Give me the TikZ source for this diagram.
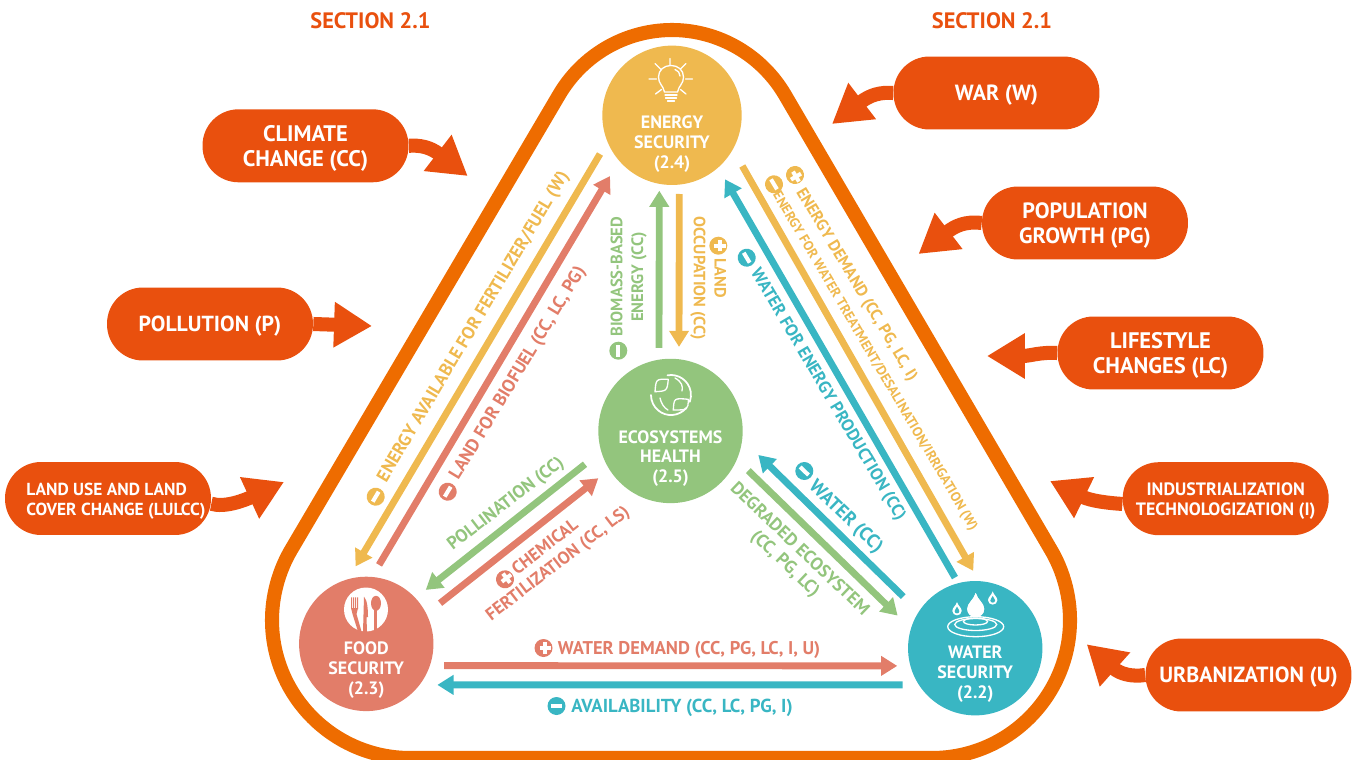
\documentclass[tikz,border=0pt]{standalone}
\usepackage{fontspec}
\setmainfont{PT Sans}
\usepackage{tikz}
\usetikzlibrary{arrows.meta}
\usetikzlibrary{positioning}
\definecolor{c_ring}{HTML}{EE6C00}
\definecolor{c_force}{HTML}{E9500E}
\definecolor{c_energy}{HTML}{EFB94F}
\definecolor{c_food}{HTML}{E27D69}
\definecolor{c_eco}{HTML}{93C57D}
\definecolor{c_water}{HTML}{39B6C3}
\newcommand{\plussign}{\rlap{\rule[-1.15pt]{6.6pt}{2.3pt}}\hspace{2.15pt}\rule[-3.3pt]{2.3pt}{6.6pt}\hspace{2.15pt}}
\newcommand{\minussign}{\rule[-1.15pt]{6.6pt}{2.3pt}}
\newcommand{\lowline}{\rule{0pt}{12.3pt}}
\newcommand{\lowsmall}{\rule{0pt}{10pt}}
\newcommand{\dropshape}{(0,-12) .. controls (-2,-5) and (-8.5,-2) .. (-8.5,4) .. controls (-8.5,9) and (-4.5,12) .. (0,12) .. controls (4.5,12) and (8.5,9) .. (8.5,4) .. controls (8.5,-2) and (2,-5) .. (0,-12)}
\tikzstyle{NEXUS_style}=[
	x=0.02cm,y=-0.02cm,on grid,
	pillar/.style={circle,draw=none,inner sep=0pt},
	pillar_text/.style={align=center,text=white,font=\bfseries\fontsize{10.2}{11.3}\selectfont},
	pressure/.style={rectangle,rounded corners=0.72cm,fill=c_force,minimum width=4.12cm,minimum height=1.46cm,inner sep=0pt,align=center,text=white,execute at begin node={\rule{0pt}{11.5pt}}},
	force_edge/.style={draw=c_force,line width=8pt,-{Triangle[length=21.6pt,width=24.5pt]}},
	link/.style={line width=3.9pt,-{Triangle[length=9.2pt,width=10.8pt]}},
	flow_text/.style={align=center,inner sep=0pt,font=\bfseries\fontsize{##1}{11.8}\selectfont},
	flow_line/.style={flow_text=##1,execute at begin node={\rule{0pt}{0.9em}}},
	badge/.style={circle,minimum size=0.36cm,inner sep=0pt,text=white,font=\fontsize{6}{6}\selectfont},
	icon_line/.style={draw=white,line width=0.75pt,line cap=round}
]

\begin{document}
\begin{tikzpicture}[NEXUS_style]
	\useasboundingbox (0,0) rectangle (1355,760);

	%ring
	\draw[draw=c_ring,line width=8pt] (559,95) .. controls (582.5,54.9) and (625.5,30) .. (672,30)
	.. controls (718.5,30) and (761.5,54.9) .. (785,95) -- (1051,550)
	.. controls (1063.3,570.9) and (1070,595.8) .. (1070,620)
	.. controls (1070,696.2) and (1008,758) .. (932,758) -- (410,758)
	.. controls (334,758) and (272,696.2) .. (272,620)
	.. controls (272,595.8) and (278.7,570.9) .. (291,550) -- cycle;

	%pillars
	\node[pillar,fill=c_energy,minimum size=2.788cm] (energy) at (672,115.3) {};
	\node[pillar,fill=c_eco,minimum size=2.888cm] (eco) [below left=6.314cm and 0.03cm of energy] {};
	\node[pillar,fill=c_food,minimum size=2.688cm] (food) [below left=4.26cm and 6.086cm of eco] {};
	\node[pillar,fill=c_water,minimum size=2.688cm] (water) [below right=4.346cm and 6.096cm of eco] {};

	\node[pillar_text] (energy_l) [below=0.574cm of energy] {ENERGY\\SECURITY\\(2.4)};
	\node[pillar_text] (eco_l) [below=0.55cm of eco] {ECOSYSTEMS\\HEALTH\\(2.5)};
	\node[pillar_text] (food_l) [below=0.53cm of food] {FOOD\\SECURITY\\(2.3)};
	\node[pillar_text] (water_l) [below=0.524cm of water] {WATER\\SECURITY\\(2.2)};

	%bulb
	\draw[icon_line] (664.5,92) .. controls (663,85) and (658.5,84) .. (658.5,77) .. controls (658.5,70) and (664,65.5) .. (671,65.5) .. controls (678,65.5) and (683.5,70) .. (683.5,77) .. controls (683.5,84) and (679,85) .. (677.5,92) -- cycle;
	\draw[icon_line] (675,69.5) .. controls (678,70.5) and (680,73) .. (680,76);
	\draw[icon_line] (665,95) -- (677,95) (665.5,98) -- (676.5,98) (667.5,101) -- (674.5,101);
	\draw[icon_line] (670,58.5) -- (670,65) (655,63.5) -- (661,69.5) (686,63.5) -- (680.5,69) (649,79) -- (656.5,79) (685.5,79) -- (692.5,79) (655.5,94) -- (661.5,89.5) (686,94) -- (680.5,89.5);

	%leaves
	\draw[icon_line,line width=1pt] (667.5,375.3) arc [start angle=-100,end angle=20,radius=20];
	\draw[icon_line,line width=1pt] (686.3,407.9) arc [start angle=40,end angle=180,radius=20];
	\draw[icon_line] (675,378) .. controls (682,382) and (683,386) .. (682,391);
	\draw[icon_line] (660,398) .. controls (661,403) and (664,408) .. (668,410);
	\draw[icon_line] (668.3,379.3) .. controls (656,379) .. (655,391.7) .. controls (667,391) .. (668.3,379.3);
	\draw[icon_line] (688.3,399.3) .. controls (674,398) .. (673.3,410) .. controls (688,410) .. (688.3,399.3);

	%cutlery
	\fill[white] (366,609.5) circle [radius=22];
	\fill[c_food] (351,597.3) rectangle (352,609) (353,597.3) rectangle (354,609) (355,597.3) rectangle (356,609) (357,597.3) rectangle (358,609);
	\fill[c_food] (351,608) -- (358,608) -- (356.5,614) -- (361.5,631.5) -- (358,631.5) -- (352.5,614) -- cycle;
	\fill[c_food] (364,596.7) .. controls (367.5,600) and (368,610) .. (368,617) -- (366.5,617) -- (367,632) -- (363,632) -- cycle;
	\fill[c_food] (376,603.3) ellipse [x radius=5,y radius=7.5];
	\fill[c_food] (374.3,608) rectangle (377.3,632);

	%drops
	\fill[white,shift={(975.7,605)}] \dropshape;
	\fill[white,shift={(957,608.7)},scale=0.55] \dropshape;
	\fill[c_water,shift={(957,610)},scale=0.28] \dropshape;
	\fill[white,shift={(992.7,598)},scale=0.55] \dropshape;
	\fill[c_water,shift={(992.7,599.3)},scale=0.28] \dropshape;
	\draw[icon_line] (975.7,626.7) ellipse [x radius=28,y radius=10];
	\draw[icon_line] (975.7,624.5) ellipse [x radius=21,y radius=6];
	\draw[icon_line] (975.5,621.5) ellipse [x radius=12,y radius=3.5];
	\fill[white,shift={(975.7,605)}] \dropshape;

	%links
	\path ([shift={(-72,38.7)}]energy.center) edge [link,c_energy] ([shift={(-10.7,-77.5)}]food.center)
	([shift={(7.3,78.7)}]energy.center) edge [link,c_energy] ([shift={(8.5,-84)}]eco.center)
	([shift={(70.3,50.7)}]energy.center) edge [link,c_energy] ([shift={(-2,-77.3)}]water.center);
	\path ([shift={(12.8,-79)}]food.center) edge [link,c_food] ([shift={(-62,60.7)}]energy.center)
	([shift={(73.8,-40.7)}]food.center) edge [link,c_food] ([shift={(-72.2,47.3)}]eco.center)
	([shift={(77.8,21.7)}]food.center) edge [link,c_food] ([shift={(-78,17.7)}]water.center);
	\path ([shift={(-11.5,-83)}]eco.center) edge [link,c_eco] ([shift={(-12.7,75.4)}]energy.center)
	([shift={(77.8,39.7)}]eco.center) edge [link,c_eco] ([shift={(-77.6,-32.6)}]water.center)
	([shift={(-85.5,33.3)}]eco.center) edge [link,c_eco] ([shift={(59.5,-54)}]food.center);
	\path ([shift={(-20.3,-70.6)}]water.center) edge [link,c_water] ([shift={(53,64)}]energy.center)
	([shift={(-72,-51.6)}]water.center) edge [link,c_water] ([shift={(87.8,24)}]eco.center)
	([shift={(-72.6,36.7)}]water.center) edge [link,c_water] ([shift={(71.1,41)}]food.center);

	%link labels
	\node[flow_line=10.2,text=c_energy,rotate=59.3] (l_fertilizer) at (472.5,326) {ENERGY AVAILABLE FOR FERTILIZER/FUEL (W)};
	\node[badge,fill=c_energy,rotate=59.3] (b_fertilizer) at (375.7,496.7) {\minussign};
	\node[flow_line=10.3,text=c_food,rotate=58.8] (l_biofuel) at (516.7,372.5) {LAND FOR BIOFUEL (CC, LC, PG)};
	\node[badge,fill=c_food,rotate=58.8] (b_biofuel) at (447.7,491.7) {\minussign};
	\node[flow_text=9.4,text=c_eco,rotate=90] (l_biomass) at (628.7,276.7) {BIOMASS-BASED\\ENERGY (CC)};
	\node[badge,fill=c_eco,rotate=90] (b_biomass) at (618.3,350.7) {\minussign};
	\node[flow_text=9.3,text=c_energy,rotate=-90] (l_land) at (708.3,278) {LAND\\OCCUPATION (CC)};
	\node[badge,fill=c_energy] (b_land) at (718.3,245.7) {\plussign};
	\node[flow_line=9.3,text=c_energy,rotate=-59] (l_demand) at (857.5,284) {ENERGY DEMAND (CC, PG, LC, I)};
	\node[badge,fill=c_energy,rotate=-59] (b_demand) at (795,175) {\plussign};
	\node[flow_line=7.8,text=c_energy,rotate=-59.5] (l_treatment) at (875.8,361) {ENERGY FOR WATER TREATMENT/DESALINATION/IRRIGATION (W)};
	\node[badge,fill=c_energy,rotate=-59] (b_treatment) at (774,184.3) {\minussign};
	\node[flow_line=9.8,text=c_water,rotate=-59.4] (l_production) at (829,394) {WATER FOR ENERGY PRODUCTION (CC)};
	\node[badge,fill=c_water,rotate=-59] (b_production) at (746.7,257.7) {\minussign};
	\node[flow_line=10.8,text=c_water,rotate=-44] (l_river) at (846.7,515.8) {WATER (CC)};
	\node[badge,fill=c_water,rotate=-44] (b_river) at (804.3,471) {\minussign};
	\node[flow_text=10.2,text=c_eco,rotate=-43.7] (l_degraded) at (792,557) {DEGRADED ECOSYSTEM\\(CC, PG, LC)};
	\node[flow_line=10.2,text=c_eco,rotate=37.6] (l_pollination) at (505,503) {POLLINATION (CC)};
	\node[flow_text=10,text=c_food,rotate=37.5] (l_chemical) at (552,556) {CHEMICAL\\FERTILIZATION (CC, LS)};
	\node[badge,fill=c_food,rotate=37.5] (b_chemical) at (505,579.3) {\plussign};
	\node[flow_line=10.5,text=c_food] (l_demand_w) at (689,648) {WATER DEMAND (CC, PG, LC, I, U)};
	\node[badge,fill=c_food] (b_demand_w) at (543.5,648) {\plussign};
	\node[flow_line=10.7,text=c_water] (l_avail) at (682,706) {AVAILABILITY (CC, LC, PG, I)};
	\node[badge,fill=c_water] (b_avail) at (556.5,706) {\minussign};

	%headers
	\node[text=c_force,font=\bfseries\fontsize{12.7}{14}\selectfont] (sec_left) at (370.5,21) {SECTION 2.1};
	\node[text=c_force,font=\bfseries\fontsize{12.7}{14}\selectfont] (sec_right) at (992,21) {SECTION 2.1};

	%pressures
	\coordinate (war_tip) at (832,124);
	\coordinate (pop_tip) at (918.5,254);
	\coordinate (life_tip) at (987,356);
	\coordinate (indus_tip) at (1050,481);
	\coordinate (urban_tip) at (1086.7,644.3);
	\coordinate (climate_tip) at (467.7,176);
	\coordinate (poll_tip) at (372,326);
	\coordinate (lulcc_tip) at (284,482);

	\node[pressure,font=\bfseries\fontsize{12.5}{14.2}\selectfont] (war) at (996.5,93) {WAR (W)};
	\node[pressure,font=\bfseries\fontsize{12.6}{14.2}\selectfont] (pop) at (1085,223) {\lowline POPULATION\\GROWTH (PG)};
	\node[pressure,font=\bfseries\fontsize{12.8}{14.2}\selectfont] (life) at (1160.5,353) {\lowline LIFESTYLE\\CHANGES (LC)};
	\node[pressure,font=\bfseries\fontsize{10.2}{11.8}\selectfont] (indus) at (1225.7,498.7) {\lowsmall INDUSTRIALIZATION\\TECHNOLOGIZATION (I)};
	\node[pressure,font=\bfseries\fontsize{12.5}{14.2}\selectfont] (urban) at (1248.5,675) {URBANIZATION (U)};
	\node[pressure,font=\bfseries\fontsize{12.8}{14.2}\selectfont] (climate) at (305.5,145.8) {\lowline CLIMATE\\CHANGE (CC)};
	\node[pressure,font=\bfseries\fontsize{12.4}{14.2}\selectfont] (poll) at (210,324) {POLLUTION (P)};
	\node[pressure,align=left,font=\bfseries\fontsize{9.9}{11.8}\selectfont] (lulcc) at (108,498.5) {\lowsmall\hspace*{9.1pt}LAND USE AND LAND\\\hspace*{9.1pt}COVER CHANGE (LULCC)};

	\draw[force_edge] (war.west) .. controls (880,92) and (870,95) .. (war_tip);
	\draw[force_edge] (pop.west) .. controls (965,221) and (955,226) .. (pop_tip);
	\draw[force_edge] (life.west) .. controls (1040,352) and (1030,356) .. (life_tip);
	\draw[force_edge] ([yshift=-3pt]indus.west) .. controls (1108,503) and (1091,501) .. (indus_tip);
	\draw[force_edge] (urban.west) .. controls (1132,677) and (1120,674) .. (urban_tip);
	\draw[force_edge] (climate.east) .. controls (420,145) and (430,147) .. (climate_tip);
	\draw[force_edge] (poll.east) -- (poll_tip);
	\draw[force_edge] ([yshift=-3pt]lulcc.east) .. controls (225,508) and (245,500) .. (lulcc_tip);
\end{tikzpicture}
\end{document}
